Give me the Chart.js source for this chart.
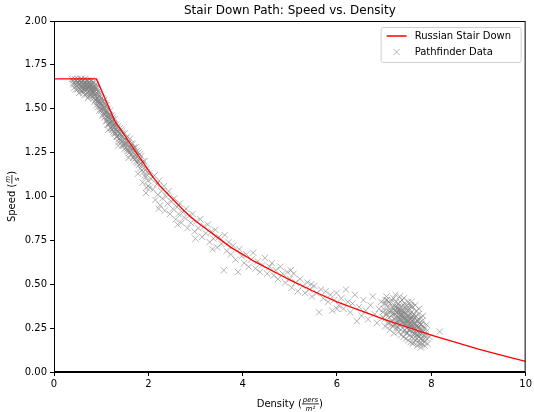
<!DOCTYPE html>
<html>
<head>
<meta charset="utf-8">
<script src="https://cdn.jsdelivr.net/npm/chart.js@4.4.1/dist/chart.umd.min.js"></script>
<style>
  html, body { margin: 0; padding: 0; background: #fff; }
  #wrap { width: 534px; height: 412px; }
</style>
</head>
<body>
<div id="wrap"><canvas id="myChart" width="534" height="412"></canvas></div>
<script>
// red reference curve
const russianDensity = [0, 0.9, 1.29, 2.1, 2.25, 2.5, 2.75, 3.0, 3.25, 3.5, 3.75, 4.0, 4.25, 4.5, 4.75, 5.0, 5.5, 6.0, 6.5, 7.0, 7.5, 8.0, 8.5, 9.0, 9.5, 10];
const russianSpeed = [1.67, 1.67, 1.43, 1.11, 1.06, 0.99, 0.92, 0.86, 0.81, 0.76, 0.71, 0.67, 0.63, 0.595, 0.56, 0.525, 0.46, 0.40, 0.35, 0.30, 0.255, 0.21, 0.17, 0.13, 0.095, 0.06];

// pathfinder points [density, speed], split by stretch of the cloud
const pathfinderFreeFlow = [
  [0.38,1.67],[0.40,1.66],[0.42,1.65],[0.44,1.67],[0.45,1.64],[0.47,1.66],[0.48,1.63],[0.50,1.67],[0.51,1.65],[0.52,1.62],
  [0.54,1.66],[0.55,1.64],[0.56,1.61],[0.58,1.67],[0.59,1.65],[0.60,1.63],[0.61,1.60],[0.62,1.66],[0.63,1.64],[0.64,1.62],
  [0.66,1.67],[0.67,1.65],[0.68,1.61],[0.69,1.63],[0.70,1.59],[0.71,1.66],[0.72,1.64],[0.73,1.62],[0.74,1.60],[0.75,1.65],
  [0.76,1.58],[0.77,1.63],[0.78,1.61],[0.79,1.66],[0.80,1.59],[0.81,1.64],[0.82,1.62],[0.83,1.57],[0.84,1.60],[0.85,1.65],
  [0.86,1.63],[0.87,1.58],[0.88,1.61],[0.89,1.55],[0.90,1.62],[0.91,1.59],[0.92,1.56],[0.93,1.60],[0.94,1.53],[0.95,1.58],
  [0.96,1.55],[0.97,1.51],[0.98,1.57],[0.99,1.53],[1.00,1.49],[0.46,1.61],[0.53,1.59],[0.65,1.58],[0.72,1.56],[0.57,1.67],
  [0.41,1.64],[0.43,1.62],[0.49,1.65],[0.50,1.61],[0.53,1.64],[0.55,1.66],[0.57,1.62],[0.58,1.60],[0.60,1.66],[0.61,1.64],
  [0.62,1.59],[0.64,1.65],[0.65,1.61],[0.67,1.63],[0.68,1.66],[0.69,1.58],[0.70,1.64],[0.71,1.61],[0.73,1.66],[0.74,1.57],
  [0.75,1.62],[0.76,1.64],[0.77,1.59],[0.78,1.66],[0.79,1.57],[0.80,1.63],[0.81,1.60],[0.82,1.65],[0.83,1.61],[0.84,1.56],
  [0.85,1.59],[0.86,1.54],[0.87,1.62],[0.88,1.57],[0.89,1.64],[0.90,1.52],[0.91,1.56],[0.92,1.61],[0.93,1.51],[0.94,1.57],
  [0.95,1.54],[0.96,1.59],[0.97,1.49],[0.98,1.54],[0.99,1.50],[1.00,1.56],
  [0.48,1.66],[0.52,1.64],[0.56,1.65],[0.59,1.62],[0.63,1.61],[0.66,1.63],[0.70,1.62],[0.74,1.63],[0.77,1.61],[0.80,1.61],
  [0.83,1.59],[0.86,1.58],[0.88,1.55],[0.91,1.54],[0.94,1.55],[0.97,1.53],[0.62,1.64],[0.68,1.64],[0.79,1.62],[0.85,1.62]
];
const pathfinderSteep = [
  [1.02,1.56],[1.03,1.50],[1.04,1.47],[1.05,1.54],[1.06,1.51],[1.07,1.45],[1.08,1.53],[1.09,1.49],[1.10,1.46],[1.11,1.52],
  [1.12,1.43],[1.13,1.48],[1.14,1.50],[1.15,1.45],[1.16,1.41],[1.17,1.47],[1.18,1.44],[1.19,1.49],[1.20,1.42],[1.21,1.39],
  [1.22,1.46],[1.23,1.43],[1.24,1.40],[1.25,1.44],[1.26,1.37],[1.27,1.42],[1.28,1.39],[1.29,1.44],[1.30,1.36],[1.32,1.41],
  [1.33,1.38],[1.34,1.34],[1.35,1.40],[1.37,1.37],[1.38,1.33],[1.40,1.39],[1.41,1.35],[1.43,1.31],[1.44,1.37],[1.46,1.34],
  [1.48,1.30],[1.50,1.36],[1.52,1.32],[1.54,1.28],[1.55,1.34],[1.57,1.30],[1.59,1.26],[1.61,1.33],[1.63,1.28],[1.65,1.24],
  [1.67,1.30],[1.69,1.26],[1.71,1.21],[1.73,1.28],[1.75,1.23],[1.77,1.19],[1.79,1.25],[1.81,1.21],[1.83,1.16],[1.85,1.23],
  [1.87,1.18],[1.88,1.08],[1.90,1.14],[1.92,1.20],[1.94,1.11],[1.95,1.02],[1.97,1.16],[1.99,1.09],[2.01,1.13],[2.03,1.05],
  [1.15,1.38],[1.36,1.29],[1.58,1.22],[1.78,1.13],[1.96,1.05],
  [1.01,1.52],[1.03,1.46],[1.05,1.49],[1.06,1.55],[1.08,1.47],[1.09,1.52],[1.10,1.43],[1.12,1.49],[1.13,1.45],[1.14,1.41],
  [1.16,1.46],[1.17,1.42],[1.19,1.46],[1.20,1.39],[1.22,1.42],[1.23,1.38],[1.24,1.45],[1.26,1.41],[1.27,1.36],[1.29,1.40],
  [1.31,1.38],[1.32,1.34],[1.34,1.39],[1.36,1.35],[1.37,1.31],[1.39,1.36],[1.41,1.32],[1.42,1.38],[1.44,1.29],[1.46,1.36],
  [1.47,1.32],[1.49,1.27],[1.51,1.33],[1.53,1.30],[1.56,1.26],[1.58,1.31],[1.60,1.28],[1.62,1.24],[1.64,1.30],[1.66,1.27],
  [1.68,1.22],[1.70,1.28],[1.72,1.24],[1.74,1.20],[1.76,1.26],[1.80,1.18],[1.82,1.24],[1.84,1.19],[1.86,1.15],[1.89,1.20],
  [1.91,1.16],[1.93,1.12],[1.98,1.14],[2.00,1.06],
  [1.04,1.52],[1.07,1.50],[1.11,1.48],[1.14,1.46],[1.18,1.42],[1.21,1.44],[1.25,1.39],[1.28,1.41],[1.31,1.36],[1.35,1.37],
  [1.39,1.33],[1.43,1.34],[1.47,1.29],[1.51,1.30],[1.55,1.27],[1.60,1.25],[1.64,1.26],[1.69,1.23],[1.74,1.22],[1.78,1.20]
];
const pathfinderMid = [
  [2.06,1.10],[2.10,1.04],[2.13,1.12],[2.15,0.98],[2.18,1.07],[2.20,1.01],[2.23,1.09],[2.25,0.95],[2.28,1.03],[2.30,0.99],
  [2.33,1.06],[2.35,0.92],[2.38,1.00],[2.41,0.96],[2.43,1.03],[2.46,0.90],[2.49,0.97],[2.52,0.93],[2.55,0.99],[2.58,0.87],
  [2.61,0.94],[2.64,0.90],[2.67,0.96],[2.70,0.85],[2.73,0.91],[2.76,0.88],[2.80,0.93],[2.83,0.82],[2.86,0.89],[2.90,0.85],
  [2.94,0.90],[2.98,0.80],[3.02,0.86],[3.06,0.82],[3.10,0.87],[3.14,0.77],[3.18,0.83],[3.22,0.79],[3.26,0.84],[3.30,0.74],
  [3.34,0.80],[3.38,0.76],[3.42,0.81],[3.46,0.71],[3.50,0.77],[3.55,0.73],[3.60,0.58],[3.62,0.78],[3.66,0.69],[3.70,0.74],
  [3.75,0.67],[3.80,0.72],[3.85,0.64],[3.90,0.57],[3.93,0.70],[3.98,0.66],[4.03,0.62],[4.08,0.67],[4.13,0.60],[4.18,0.64],
  [4.22,0.68],[4.27,0.59],[4.32,0.63],[4.37,0.57],[4.42,0.61],[4.47,0.65],[4.52,0.56],[4.57,0.60],[2.22,0.93],[2.62,0.84],
  [3.00,0.76],[3.36,0.70]
];
const pathfinderTail = [
  [4.62,0.62],[4.66,0.55],[4.70,0.58],[4.75,0.53],[4.80,0.60],[4.85,0.56],[4.90,0.51],[4.95,0.57],[5.00,0.53],[5.04,0.48],
  [5.08,0.56],[5.12,0.51],[5.17,0.46],[5.22,0.53],[5.27,0.49],[5.32,0.45],[5.37,0.51],[5.42,0.47],[5.47,0.43],[5.52,0.49],
  [5.57,0.45],[5.62,0.34],[5.66,0.47],[5.71,0.42],[5.76,0.46],[5.81,0.40],[5.86,0.44],[5.90,0.35],[5.94,0.41],[5.99,0.45],
  [6.04,0.38],[6.09,0.42],[6.14,0.36],[6.19,0.47],[6.23,0.40],[6.28,0.34],[6.33,0.39],[6.38,0.44],[6.42,0.29],[6.47,0.37],
  [6.52,0.32],[6.56,0.41],[6.61,0.35],[6.66,0.30],[6.71,0.38],[6.76,0.43],[6.80,0.33],[6.85,0.28],[6.89,0.36],[6.94,0.40],
  [6.98,0.31],[5.02,0.58],[5.45,0.50],[6.00,0.36]
];
const pathfinderCluster = [
  [7.01,0.30],[6.99,0.36],[7.03,0.41],[7.02,0.26],[7.06,0.33],[7.04,0.39],[7.07,0.28],[7.05,0.43],
  [7.11,0.31],[7.09,0.37],[7.12,0.24],[7.10,0.40],[7.13,0.34],[7.16,0.29],[7.14,0.35],[7.17,0.41],[7.15,0.32],[7.18,0.26],
  [7.21,0.27],[7.19,0.33],[7.22,0.38],[7.20,0.42],[7.23,0.30],[7.21,0.22],[7.26,0.25],[7.24,0.31],[7.27,0.36],[7.25,0.40],
  [7.28,0.28],[7.26,0.34],[7.31,0.23],[7.29,0.29],[7.32,0.34],[7.30,0.39],[7.33,0.43],[7.31,0.31],[7.28,0.26],
  [7.36,0.21],[7.34,0.27],[7.37,0.32],[7.35,0.37],[7.38,0.41],[7.36,0.30],[7.33,0.35],
  [7.41,0.20],[7.39,0.25],[7.42,0.30],[7.40,0.35],[7.43,0.39],[7.41,0.28],[7.38,0.33],
  [7.46,0.19],[7.44,0.24],[7.47,0.29],[7.45,0.33],[7.48,0.38],[7.46,0.27],[7.43,0.31],[7.47,0.36],
  [7.51,0.18],[7.49,0.22],[7.52,0.27],[7.50,0.32],[7.53,0.36],[7.51,0.40],[7.48,0.25],[7.52,0.30],
  [7.56,0.17],[7.54,0.21],[7.57,0.26],[7.55,0.30],[7.58,0.34],[7.56,0.38],[7.53,0.24],[7.57,0.28],
  [7.61,0.16],[7.59,0.20],[7.62,0.24],[7.60,0.29],[7.63,0.33],[7.61,0.37],[7.58,0.27],[7.62,0.22],
  [7.66,0.18],[7.64,0.22],[7.67,0.27],[7.65,0.31],[7.68,0.35],[7.66,0.25],
  [7.71,0.17],[7.69,0.21],[7.72,0.25],[7.70,0.29],[7.73,0.33],[7.71,0.23],
  [7.76,0.16],[7.74,0.20],[7.77,0.24],[7.75,0.28],[7.78,0.31],
  [7.81,0.18],[7.79,0.22],[7.82,0.26],[7.80,0.29],[7.86,0.17],[7.84,0.21],[7.87,0.25],
  [7.91,0.19],[7.89,0.23],[7.92,0.16],[7.96,0.20],[8.18,0.23],
  [7.22,0.35],[7.24,0.28],[7.27,0.32],[7.29,0.37],[7.30,0.25],[7.32,0.30],[7.34,0.40],[7.35,0.33],[7.37,0.28],[7.39,0.37],
  [7.40,0.23],[7.42,0.34],[7.44,0.28],[7.45,0.37],[7.47,0.22],[7.49,0.30],[7.50,0.35],[7.52,0.24],[7.54,0.33],[7.55,0.27],
  [7.57,0.37],[7.59,0.31],[7.60,0.25],[7.62,0.30],[7.64,0.27],[7.65,0.20],[7.67,0.32],[7.68,0.24],[7.70,0.19],[7.72,0.30],
  [7.73,0.21],[7.75,0.25],[7.77,0.19],[7.79,0.27],[7.80,0.16],[7.83,0.23],[7.85,0.19],[7.88,0.21],[7.18,0.37],[7.16,0.27],
  [7.13,0.39],[7.11,0.28],[7.08,0.35],[7.06,0.41],[7.03,0.33],[7.00,0.39],[6.97,0.34],[7.24,0.44],[7.42,0.42],[7.58,0.40],
  [7.66,0.38],[7.74,0.36],[7.82,0.32],[7.90,0.27],[7.62,0.17],[7.70,0.15],[7.78,0.14],[7.86,0.15],
  [7.20,0.36],[7.23,0.33],[7.25,0.37],[7.28,0.34],[7.31,0.36],[7.33,0.32],[7.35,0.29],[7.37,0.35],[7.39,0.31],[7.41,0.33],
  [7.43,0.27],[7.45,0.30],[7.47,0.33],[7.49,0.27],[7.51,0.29],[7.53,0.32],[7.55,0.24],[7.57,0.30],[7.59,0.27],[7.61,0.32],
  [7.63,0.25],[7.65,0.28],[7.67,0.22],[7.69,0.26],[7.71,0.29],[7.73,0.26],[7.75,0.22],[7.77,0.27],[7.79,0.19],[7.81,0.24]
];

const xTicks = [0, 2, 4, 6, 8, 10];
const yTicks = [0, 0.25, 0.5, 0.75, 1.0, 1.25, 1.5, 1.75, 2.0];

const FONT = '"DejaVu Sans", sans-serif';
const GREY = 'rgba(128,128,128,0.58)';

const russianLine = russianDensity.map((d, i) => ({ x: d, y: russianSpeed[i] }));
const pathfinder = [].concat(pathfinderFreeFlow, pathfinderSteep, pathfinderMid, pathfinderTail, pathfinderCluster)
  .map(p => ({ x: p[0], y: p[1] }));

// fraction like matplotlib mathtext, returns width
function drawFrac(ctx, x, y, top, bottom, draw) {
  ctx.font = 'italic 7px ' + FONT;
  const w = Math.max(ctx.measureText(top).width, ctx.measureText(bottom).width) + 2;
  if (draw) {
    ctx.textAlign = 'center';
    ctx.textBaseline = 'alphabetic';
    ctx.fillText(top, x + w / 2, y - 2);
    ctx.textBaseline = 'top';
    ctx.fillText(bottom, x + w / 2, y + 1.5);
    ctx.fillRect(x, y - 0.5, w, 0.8);
  }
  return w;
}

function drawLabel(ctx, cx, cy, before, top, bottom) {
  ctx.font = '10px ' + FONT;
  const w1 = ctx.measureText(before).width;
  const w3 = ctx.measureText(')').width;
  const w2 = drawFrac(ctx, 0, 0, top, bottom, false);
  let x = cx - (w1 + w2 + w3) / 2;
  ctx.font = '10px ' + FONT;
  ctx.textAlign = 'left';
  ctx.textBaseline = 'middle';
  ctx.fillText(before, x, cy);
  drawFrac(ctx, x + w1, cy, top, bottom, true);
  ctx.font = '10px ' + FONT;
  ctx.textAlign = 'left';
  ctx.textBaseline = 'middle';
  ctx.fillText(')', x + w1 + w2, cy);
}

const decorations = {
  id: 'decorations',
  afterDraw(chart) {
    const ctx = chart.ctx;
    const a = chart.chartArea;
    ctx.save();
    // full frame
    ctx.strokeStyle = '#000';
    ctx.lineWidth = 1;
    ctx.strokeRect(a.left + 0.5, a.top + 0.5, a.right - a.left - 1, a.bottom - a.top - 1);

    // title
    ctx.fillStyle = '#000';
    ctx.font = '12px ' + FONT;
    ctx.textAlign = 'center';
    ctx.textBaseline = 'middle';
    ctx.fillText('Stair Down Path: Speed vs. Density', (a.left + a.right) / 2, 11);

    // axis titles
    drawLabel(ctx, (a.left + a.right) / 2, 404, 'Density (', 'pers', 'm²');
    ctx.save();
    ctx.translate(12, (a.top + a.bottom) / 2);
    ctx.rotate(-Math.PI / 2);
    drawLabel(ctx, 0, 0, 'Speed (', 'm', 's');
    ctx.restore();

    // legend in upper right
    const bw = 140, bh = 35;
    const bx = a.right - 5 - bw, by = a.top + 6;
    ctx.fillStyle = 'rgba(255,255,255,0.8)';
    ctx.strokeStyle = '#d0d0d0';
    ctx.lineWidth = 1;
    ctx.beginPath();
    ctx.roundRect(bx + 0.5, by + 0.5, bw, bh, 2);
    ctx.fill();
    ctx.stroke();

    const ds = chart.data.datasets;
    ctx.strokeStyle = ds[0].borderColor;
    ctx.lineWidth = 1.5;
    ctx.beginPath();
    ctx.moveTo(bx + 6, by + 9);
    ctx.lineTo(bx + 26, by + 9);
    ctx.stroke();

    ctx.strokeStyle = GREY;
    ctx.lineWidth = 1;
    ctx.beginPath();
    ctx.moveTo(bx + 13, by + 22); ctx.lineTo(bx + 19, by + 28);
    ctx.moveTo(bx + 19, by + 22); ctx.lineTo(bx + 13, by + 28);
    ctx.stroke();

    ctx.fillStyle = '#000';
    ctx.font = '10px ' + FONT;
    ctx.textAlign = 'left';
    ctx.textBaseline = 'middle';
    ctx.fillText(ds[0].label, bx + 34, by + 9);
    ctx.fillText(ds[1].label, bx + 34, by + 25);
    ctx.restore();
  }
};

new Chart(document.getElementById('myChart'), {
  type: 'scatter',
  data: {
    datasets: [
      {
        label: 'Russian Stair Down',
        data: russianLine,
        showLine: true,
        borderColor: '#ff0000',
        backgroundColor: '#ff0000',
        borderWidth: 1.3,
        pointRadius: 0,
        tension: 0
      },
      {
        label: 'Pathfinder Data',
        data: pathfinder,
        pointStyle: 'crossRot',
        pointRadius: 4.5,
        pointBorderWidth: 1,
        borderColor: GREY,
        backgroundColor: GREY
      }
    ]
  },
  options: {
    responsive: false,
    animation: false,
    events: [],
    layout: { padding: { top: 21, right: 8, left: 0, bottom: 0 } },
    plugins: { legend: { display: false }, title: { display: false }, tooltip: { enabled: false } },
    scales: {
      x: {
        type: 'linear',
        min: 0, max: 10,
        afterBuildTicks: s => { s.ticks = xTicks.map(v => ({ value: v })); },
        afterFit: s => { s.height = 40; },
        ticks: { color: '#000', font: { family: FONT, size: 10 }, padding: 2, maxRotation: 0 },
        grid: { drawOnChartArea: false, tickLength: 4, color: '#000' },
        border: { color: '#000', width: 1 }
      },
      y: {
        type: 'linear',
        min: 0, max: 2,
        afterBuildTicks: s => { s.ticks = yTicks.map(v => ({ value: v })); },
        afterFit: s => { s.width = 54; },
        ticks: { color: '#000', font: { family: FONT, size: 10 }, padding: 3, callback: v => v.toFixed(2) },
        grid: { drawOnChartArea: false, tickLength: 4, color: '#000' },
        border: { color: '#000', width: 1 }
      }
    }
  },
  plugins: [decorations]
});
</script>
</body>
</html>
